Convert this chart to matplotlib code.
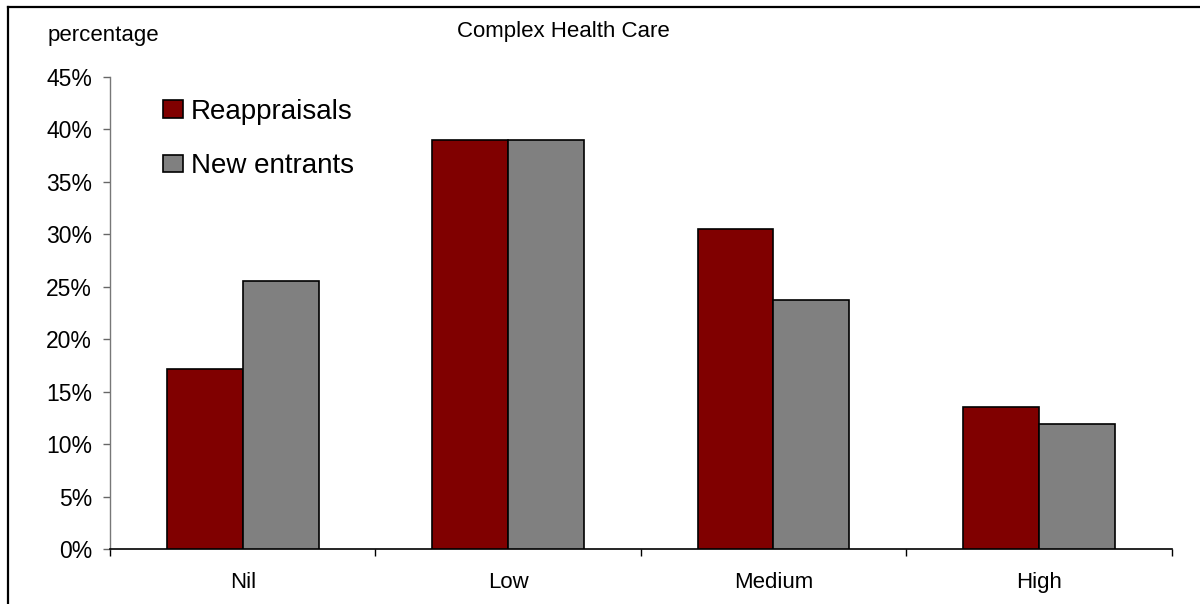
import matplotlib
matplotlib.use("Agg")
import matplotlib.pyplot as plt
import numpy as np
from matplotlib.lines import Line2D

plt.rcParams['font.family'] = ['Liberation Sans', 'DejaVu Sans']

categories = ["Nil", "Low", "Medium", "High"]
reappraisals = [17.2, 39.0, 30.5, 13.6]
new_entrants = [25.6, 39.0, 23.8, 11.9]
series_names = ["Reappraisals", "New entrants"]
y_ticks = [0, 5, 10, 15, 20, 25, 30, 35, 40, 45]
title = "Complex Health Care"
y_label = "percentage"

W, H = 1200, 604
fig = plt.figure(figsize=(W / 100, H / 100), dpi=100)
ax = fig.add_axes([110 / W, 1 - 549.3 / H, (1171.5 - 110) / W, (549.3 - 77) / H])

x = np.arange(len(categories))
bw = 0.286
b1 = ax.bar(x - bw / 2, reappraisals, bw, color="#800000", edgecolor="black",
            linewidth=1.2, label=series_names[0], zorder=3)
b2 = ax.bar(x + bw / 2, new_entrants, bw, color="#808080", edgecolor="black",
            linewidth=1.2, label=series_names[1], zorder=3)

ax.set_xlim(-0.5, len(categories) - 0.5)
ax.set_ylim(0, 45)
ax.set_yticks(y_ticks)
ax.set_yticklabels([f"{v}%" for v in y_ticks])

# category labels centred, tick marks at the category boundaries
ax.set_xticks(np.arange(-0.5, len(categories)), minor=False)
ax.set_xticklabels([])
ax.set_xticks(x, minor=True)
ax.set_xticklabels(categories, minor=True)
ax.tick_params(axis="x", which="major", direction="out", length=5, width=1, color="black")
ax.tick_params(axis="x", which="minor", length=0, pad=16, labelsize=16)
ax.tick_params(axis="y", direction="out", length=5, width=1, color="#666666",
               pad=8, labelsize=16.5)

for s in ("top", "right"):
    ax.spines[s].set_visible(False)
ax.spines["left"].set_color("#777777")
ax.spines["left"].set_linewidth(1)
ax.spines["bottom"].set_color("black")
ax.spines["bottom"].set_linewidth(1.2)

leg = ax.legend(handles=[b1, b2], loc="upper left",
                bbox_to_anchor=((152 - 110) / (1171.5 - 110), 1 - (88 - 77) / (549.3 - 77)),
                frameon=False, fontsize=20, handlelength=0.7, handleheight=0.6,
                handletextpad=0.3, labelspacing=1.02, borderaxespad=0)

fig.text(563 / W, 1 - 32 / H, title, ha="center", va="center", fontsize=16)
fig.text(48 / W, 1 - 35 / H, y_label, ha="left", va="center", fontsize=16)

# outer frame (top and left edges)
fig.add_artist(Line2D([8 / W, 8 / W], [0, 1 - 7 / H], transform=fig.transFigure,
                      color="black", linewidth=1.6))
fig.add_artist(Line2D([8 / W, 1], [1 - 7 / H, 1 - 7 / H], transform=fig.transFigure,
                      color="black", linewidth=1.6))

fig.savefig("out.png", dpi=100, facecolor="white")
